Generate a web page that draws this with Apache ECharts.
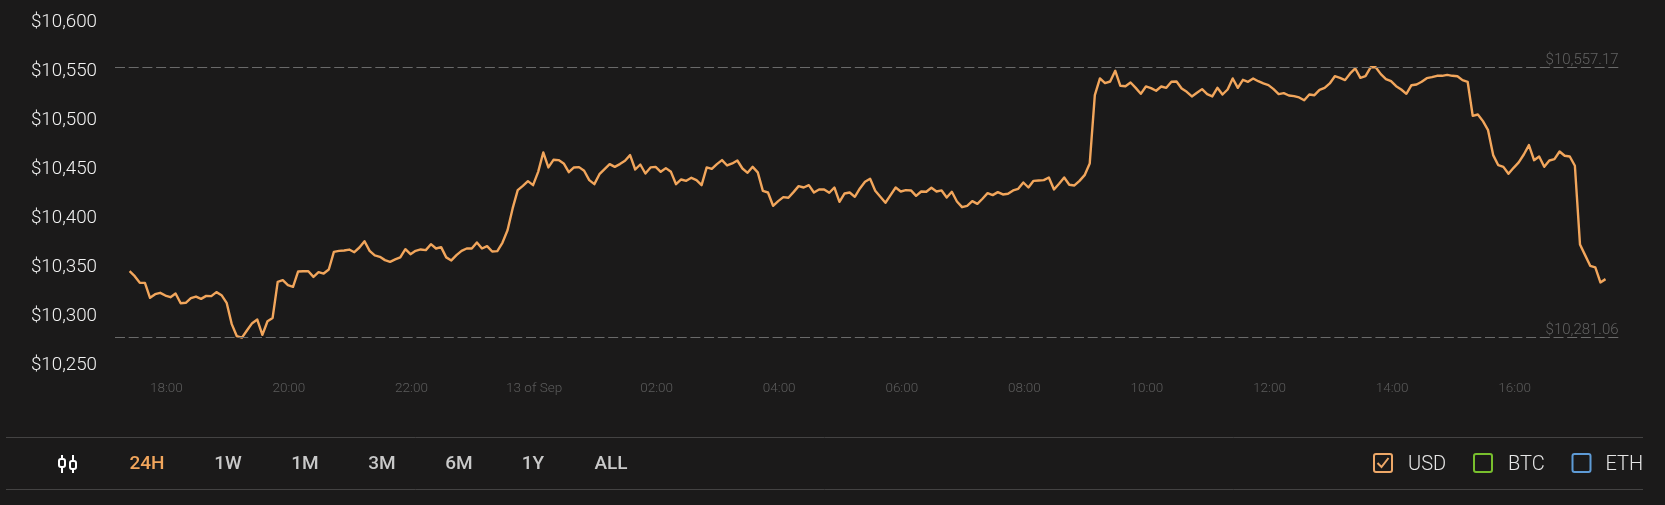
<!DOCTYPE html>
<html>
<head>
<meta charset="utf-8">
<style>html,body{margin:0;padding:0;background:#1b1a1a}#c{width:1665px;height:505px}</style>
<script src="https://cdn.jsdelivr.net/npm/echarts@6/dist/echarts.min.js"></script>
</head>
<body>
<div id="c"></div>
<script>
var priceUsd = [
10348.9,10343.8,10337,10337,10321.7,10325.4,10326.8,10324,10322.3,10326.1,10316.2,10316.6,10321.3,10323,10320.6,10323.7,10323.4,10327.5,10324.4,10316.6,10294.8,10282.5,10281.06,10288.6,10295.8,10299.5,10283.9,10297.8,10301.2,10338,10339.7,10334.6,10332.9,10348.6,10348.9,10348.9,10343.1,10347.9,10346.5,10350.6,10368.7,10369.7,10370,10371,10368.3,10373.1,10379.5,10369.7,10365,
10363.6,10360.2,10358.5,10360.9,10363,10371.4,10366.3,10369.7,10371.1,10370.4,10376.5,10372.1,10373.5,10363,10359.9,10365.3,10369.7,10372.1,10372.1,10378.3,10372.1,10374.5,10369,10369.4,10377.9,10390.8,10413,10431.7,10436.1,10440.9,10436.8,10450.4,10470.2,10454.9,10462.7,10462.4,10459,10450.1,10454.9,10455.2,10451.5,10441.9,10437.8,10448,10453.2,10458.3,10455.5,10458.3,
10461.7,10467.5,10452.8,10457.9,10448.7,10454.9,10455.5,10450.4,10454.2,10450.4,10437.8,10442.6,10441.2,10444.3,10441.9,10436.8,10454.9,10453.5,10458.3,10462.4,10456.9,10459,10462,10453.8,10449.4,10455.5,10449.8,10431,10429.3,10415.7,10420.5,10424.6,10423.9,10429.7,10435.8,10434.4,10436.8,10429.3,10432.4,10432.4,10429,10434.4,10419.8,10428.3,10429.3,10424.9,10433.4,10440.2,
10443.3,10431,10424.9,10418.8,10426.6,10434.4,10430.3,10431.7,10431.4,10425.9,10430.3,10430,10434.1,10430.3,10431.4,10424.2,10430,10420.1,10414.3,10415.7,10420.5,10417.7,10422.9,10428.6,10426.6,10429.7,10427.3,10428,10431.4,10433.1,10439.5,10434.4,10441.2,10441.6,10441.9,10444.6,10432.4,10438.2,10444.6,10437.2,10436.5,10441.2,10447,10458.9,10528.7,10545.8,10541,10542.7,
10553.6,10538.3,10537.9,10541.7,10536.2,10530.1,10537.6,10535.9,10533.2,10537.6,10536.2,10542.4,10542.7,10535.5,10532.1,10527.4,10531.1,10534.9,10529.8,10527.4,10536.2,10529.4,10534.5,10545.8,10536.2,10544.4,10542.4,10545.8,10543,10540.7,10539,10534.9,10529.8,10530.8,10528.4,10527.7,10526.4,10523.6,10529.4,10528.7,10534.2,10536.2,10540.7,10548.1,10546.4,10544.1,10550.9,10556,
10546.4,10548.1,10557.17,10557.17,10550.2,10545.1,10543,10537.9,10534.5,10530.1,10538.9,10539.6,10542.4,10546.1,10547.1,10548.5,10548.5,10549.5,10548.5,10548.1,10544.1,10542.4,10507.6,10509,10502.2,10493,10467.5,10457.2,10455.5,10448.4,10454.5,10460,10468.1,10477.7,10462.3,10466.1,10455.5,10462,10463.4,10471.2,10466.8,10466.1,10456.6,10376.2,10365.3,10354.4,10352.7,10337.4,10340.8
];
var priceMax = 10557.17;
var priceMin = 10281.06;
var yTicks = [10250,10300,10350,10400,10450,10500,10550,10600];
var xTickLabels = ['18:00','20:00','22:00','13 of Sep','02:00','04:00','06:00','08:00','10:00','12:00','14:00','16:00'];
var rangeButtons = ['24H','1W','1M','3M','6M','1Y','ALL'];
var currencies = ['USD','BTC','ETH'];

// minutes after the first sample (17:24)
var sampleMinutes = priceUsd.map(function (v, i) { return i * 5; });
var seriesData = priceUsd.map(function (v, i) { return [sampleMinutes[i], v]; });
var xTickValues = xTickLabels.map(function (l, i) { return 36 + i * 120; });

function money(v, d) {
  return '$' + Number(v).toLocaleString('en-US', { minimumFractionDigits: d, maximumFractionDigits: d });
}

var FONT = 'Roboto';
var ORANGE = '#f2a65c';
var graphic = [];
[437.5, 489.5].forEach(function (y) {
  graphic.push({ type: 'line', silent: true, shape: { x1: 6, y1: y, x2: 1643, y2: y }, style: { stroke: '#444343', lineWidth: 1 } });
});
// candlestick icon
[62, 73].forEach(function (x) {
  graphic.push({ type: 'line', silent: true, shape: { x1: x, y1: 455, x2: x, y2: 473 }, style: { stroke: '#fff', lineWidth: 2 } });
  graphic.push({ type: 'rect', silent: true, shape: { x: x - 3, y: x === 62 ? 459 : 461, width: 6, height: 8, r: 2 }, style: { fill: '#1b1a1a', stroke: '#fff', lineWidth: 2 } });
});
var btnX = [147, 228, 305, 382, 459, 533, 611];
rangeButtons.forEach(function (t, i) {
  graphic.push({ type: 'text', silent: true, x: btnX[i], y: 464, style: { text: t, x: 0, y: 0, align: 'center', verticalAlign: 'middle', font: '500 19px ' + FONT, fill: i === 0 ? ORANGE : '#c9c9c9' } });
});
var boxX = [1374, 1474, 1572.5];
var boxC = ['#eea868', '#78bf2d', '#5e9bd6'];
var textX = [1408, 1508, 1605.5];
currencies.forEach(function (t, i) {
  graphic.push({ type: 'rect', silent: true, shape: { x: boxX[i], y: 454, width: 18, height: 18, r: 2 }, style: { fill: 'none', stroke: boxC[i], lineWidth: 2 } });
  graphic.push({ type: 'text', silent: true, x: textX[i], y: 464.5, style: { text: t, x: 0, y: 0, align: 'left', verticalAlign: 'middle', font: '300 20px ' + FONT, fill: '#e6e6e6' } });
});
graphic.push({ type: 'polyline', silent: true, shape: { points: [[1377.5, 463], [1381.5, 467], [1388.5, 458]] }, style: { fill: 'none', stroke: boxC[0], lineWidth: 2 } });

var chart = echarts.init(document.getElementById('c'), null, { renderer: 'canvas' });
chart.setOption({
  animation: false,
  backgroundColor: '#1b1a1a',
  grid: { left: 115, right: 46.4, top: 25.4, bottom: 137, containLabel: false },
  xAxis: {
    type: 'value',
    min: -14.3,
    max: 1457.8,
    axisLine: { show: false },
    axisTick: { show: false },
    splitLine: { show: false },
    axisLabel: {
      customValues: xTickValues,
      color: '#5c5c5c', fontFamily: FONT, fontWeight: 300, fontSize: 13.5, margin: 14,
      hideOverlap: false,
      formatter: function (v) {
        var i = xTickValues.indexOf(+v);
        return i >= 0 ? xTickLabels[i] : '';
      }
    }
  },
  yAxis: {
    type: 'value',
    min: yTicks[0],
    max: yTicks[yTicks.length - 1],
    interval: 50,
    axisLine: { show: false },
    axisTick: { show: false },
    splitLine: { show: false },
    axisLabel: {
      color: '#f2f2f2', fontFamily: FONT, fontWeight: 300, fontSize: 18.8, margin: 18,
      verticalAlign: 'bottom', lineHeight: 6,
      formatter: function (v) { return money(v, 0); }
    }
  },
  series: [{
    type: 'line',
    data: seriesData,
    showSymbol: false,
    smooth: false,
    silent: true,
    lineStyle: { color: ORANGE, width: 2.4, join: 'round' },
    itemStyle: { color: ORANGE },
    markLine: {
      silent: true,
      symbol: 'none',
      precision: 2,
      lineStyle: { color: '#6a6a6a', width: 1, type: [10, 3.7] },
      label: {
        position: 'insideEndTop',
        distance: [0, 0],
        color: '#626262', fontFamily: FONT, fontWeight: 300, fontSize: 15,
        formatter: function (p) { return money(p.value, 2); }
      },
      data: [{ yAxis: priceMax }, { yAxis: priceMin }]
    }
  }],
  graphic: graphic
});
</script>
</body>
</html>
